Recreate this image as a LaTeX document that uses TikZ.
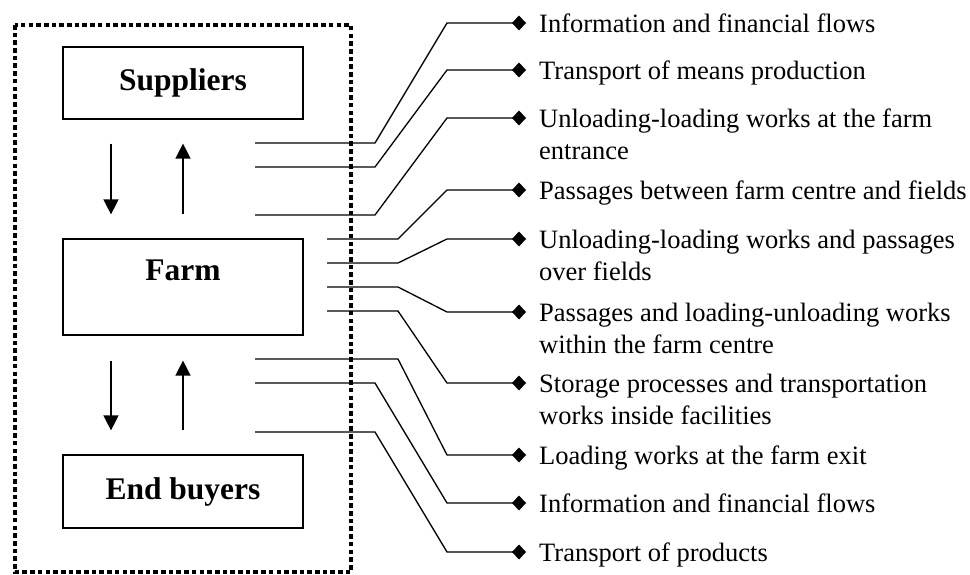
\documentclass[tikz,border=0pt]{standalone}
\usepackage{fontspec}
\setmainfont{Liberation Serif}
\usetikzlibrary{arrows.meta,positioning}

\begin{document}
\begin{tikzpicture}[x=1pt, y=-1pt,
    box/.style={draw, line width=1.2pt, minimum width=240pt, font=\fontsize{31.5}{36}\selectfont\bfseries},
    lbl/.style={anchor=north west, align=left, inner xsep=13pt, inner ysep=0pt, font=\fontsize{26.5}{32}\selectfont},
    link/.style={line width=1.3pt, -{Diamond[length=14pt,width=15pt]}},
    flow/.style={line width=1.4pt, -{Triangle[length=15pt,width=15pt]}}]
    \useasboundingbox (0,0) rectangle (970,575);
    % chain boundary
    \draw[line width=4.6pt, dash pattern=on 4.6pt off 3.1pt] (15,25) rectangle (351,572);
    % chain members
    \node[box, minimum height=72pt] (sup) at (183,83) {Suppliers};
    \node[box, minimum height=96pt, text height=22pt, text depth=35pt] (farm) at (183,287) {Farm};
    \node[box, minimum height=73pt] (buy) at (183,491.5) {End buyers};
    \draw[flow] ([xshift=-72pt,yshift=-24pt]sup.south) -- ([xshift=-72pt,yshift=24pt]farm.north);
    \draw[flow] ([yshift=24pt]farm.north) -- ([yshift=-24pt]sup.south);
    \draw[flow] ([xshift=-72pt,yshift=-25pt]farm.south) -- ([xshift=-72pt,yshift=24pt]buy.north);
    \draw[flow] ([yshift=24pt]buy.north) -- ([yshift=-25pt]farm.south);
    % logistic processes
    \node[lbl] (l1) at (526,14) {Information and financial flows};
    \node[lbl] (l2) at (526,61) {Transport of means production};
    \node[lbl] (l3) at (526,109) {Unloading-loading works at the farm\\entrance};
    \node[lbl] (l4) at (526,181) {Passages between farm centre and fields};
    \node[lbl] (l5) at (526,230) {Unloading-loading works and passages\\over fields};
    \node[lbl] (l6) at (526,303) {Passages and loading-unloading works\\within the farm centre};
    \node[lbl] (l7) at (526,374) {Storage processes and transportation\\works inside facilities};
    \node[lbl] (l8) at (526,446) {Loading works at the farm exit};
    \node[lbl] (l9) at (526,494) {Information and financial flows};
    \node[lbl] (l10) at (526,543) {Transport of products};
    \foreach \n/\x/\y in {1/255/143, 2/255/167, 3/255/215, 4/327/239, 5/327/263,
        6/327/287, 7/327/311, 8/255/359, 9/255/383, 10/255/432}
        \coordinate (s\n) at (\x,\y);
    \foreach \n/\dx in {1/120, 2/120, 3/120, 4/71, 5/71, 6/71, 7/71, 8/143, 9/120, 10/120}
        \draw[link] (s\n) -- ++(\dx,0) -- ([xshift=-79pt,yshift=-9pt]l\n.north west) -- ([yshift=-9pt]l\n.north west);
\end{tikzpicture}
\end{document}
